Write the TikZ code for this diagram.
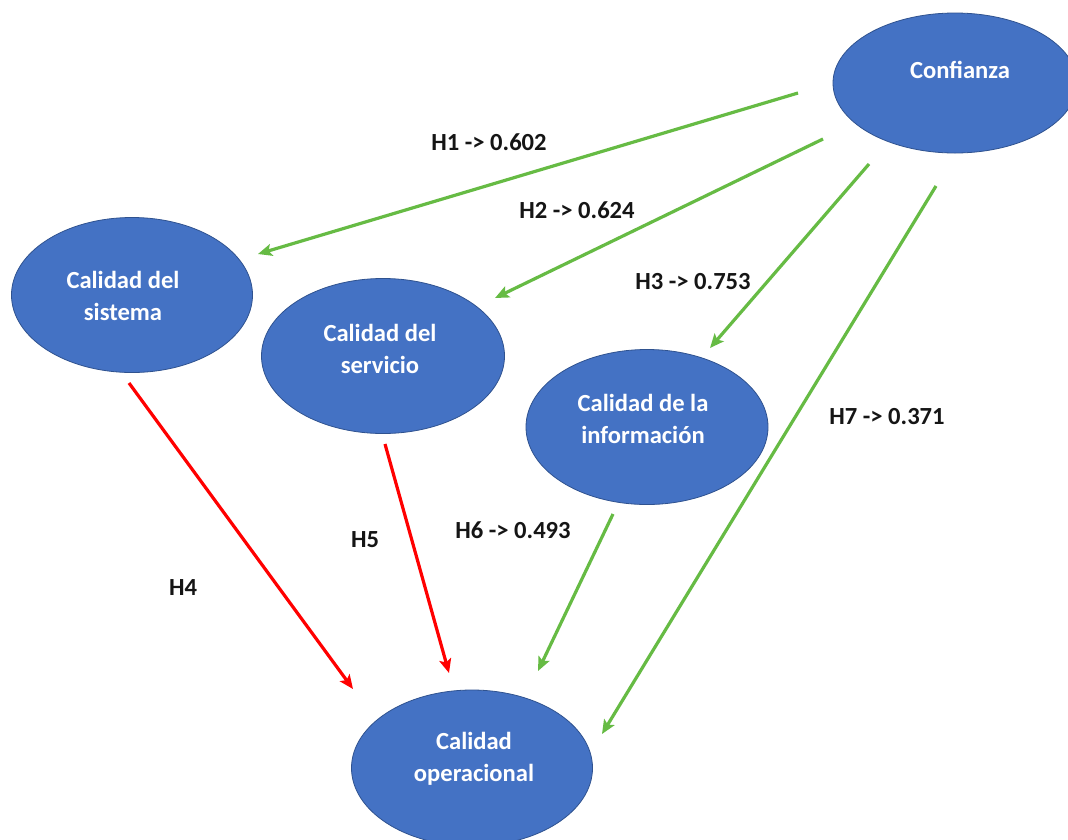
\documentclass[tikz,border=0pt]{standalone}
\usepackage{fontspec}
\setmainfont{Carlito}
\usetikzlibrary{shapes.geometric,arrows.meta}
\definecolor{ellfill}{HTML}{4472C4}
\definecolor{elldraw}{HTML}{2F528F}
\definecolor{linkgreen}{HTML}{66BB44}
\definecolor{linkred}{HTML}{FF0000}
\definecolor{labtext}{HTML}{151515}
\tikzset{
  ell/.style={ellipse, fill=ellfill, draw=elldraw, line width=0.8pt, inner sep=0pt},
  etext/.style={text=white, font=\bfseries\fontsize{24.6}{32}\selectfont, align=center, inner sep=0pt},
  hlabel/.style={text=labtext, font=\bfseries\fontsize{24.6}{30}\selectfont, inner sep=0pt},
  link/.style={line width=3.2pt, -{Stealth[length=14pt,width=12pt,inset=3pt]}},
  glink/.style={link, draw=linkgreen, color=linkgreen},
  rlink/.style={link, draw=linkred, color=linkred}
}
\begin{document}
\begin{tikzpicture}[x=1pt,y=-1pt]
\useasboundingbox (0,0) rectangle (1068,839);
\clip (0,0) rectangle (1068,839);
\fill[white] (0,0) rectangle (1068,839);

% ellipses
\node[ell, minimum width=244pt, minimum height=140pt] (conf) at (955,83) {};
\node[ell, minimum width=241pt, minimum height=155pt] (sis) at (132,295) {};
\node[ell, minimum width=243pt, minimum height=155pt] (ser) at (383,356) {};
\node[ell, minimum width=242pt, minimum height=155pt] (inf) at (647,427) {};
\node[ell, minimum width=241pt, minimum height=156pt] (ope) at (472,768) {};

% ellipse texts
\node[etext] (confT) at (960,70) {Confianza};
\node[etext] (sisT) at (123,296) {Calidad del\\sistema};
\node[etext] (serT) at (380,349) {Calidad del\\servicio};
\node[etext] (infT) at (643,419) {Calidad de la\\información};
\node[etext] (opeT) at (474,759) {Calidad\\operacional};

% connector end points
\coordinate (h1s) at (798,93);   \coordinate (h1e) at (258,254);
\coordinate (h2s) at (823,139);  \coordinate (h2e) at (495,298);
\coordinate (h3s) at (869,164);  \coordinate (h3e) at (710,348);
\coordinate (h7s) at (936,186);  \coordinate (h7e) at (602,734);
\coordinate (h6s) at (613,514);  \coordinate (h6e) at (538,671);
\coordinate (h4s) at (129,383);  \coordinate (h4e) at (353,689);
\coordinate (h5s) at (385,444);  \coordinate (h5e) at (449,673);

\draw[glink] (h1s) -- (h1e);
\draw[glink] (h2s) -- (h2e);
\draw[glink] (h3s) -- (h3e);
\draw[glink] (h7s) -- (h7e);
\draw[glink] (h6s) -- (h6e);
\draw[rlink] (h4s) -- (h4e);
\draw[rlink] (h5s) -- (h5e);

% labels
\node[hlabel] (l1) at (489,142) {H1 -> 0.602};
\node[hlabel] (l2) at (577,210) {H2 -> 0.624};
\node[hlabel] (l3) at (693,282) {H3 -> 0.753};
\node[hlabel] (l7) at (887,417) {H7 -> 0.371};
\node[hlabel] (l6) at (513,530) {H6 -> 0.493};
\node[hlabel] (l5) at (365,540) {H5};
\node[hlabel] (l4) at (183,588) {H4};
\end{tikzpicture}
\end{document}
